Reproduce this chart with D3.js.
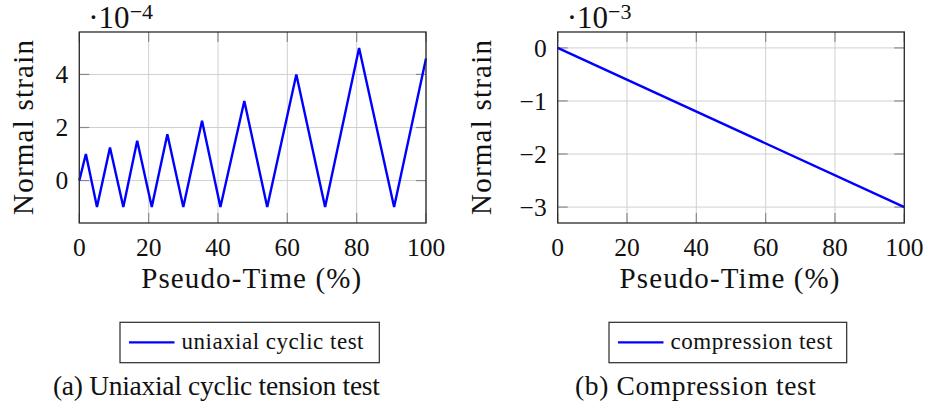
<!DOCTYPE html>
<html>
<head>
<meta charset="utf-8">
<script src="https://cdn.jsdelivr.net/npm/d3@7"></script>
<style>
  html, body { margin: 0; padding: 0; background: #fff; }
  svg { display: block; }
  svg text { font-family: "Liberation Serif", "DejaVu Serif", serif; }
</style>
</head>
<body>
<svg id="fig" width="928" height="410"></svg>
<script>
// ---- data (strain values in units of the axis multiplier) ----
const cyclicTime   = [0, 1.9, 5.1, 8.85, 12.7, 16.7, 20.9, 25.4, 30.0, 35.4, 40.7, 47.6, 54.2, 62.6, 70.9, 80.7, 90.8, 100];
const cyclicStrain = [0, 1, -1, 1.25, -1, 1.5, -1, 1.75, -1, 2.25, -1, 3, -1, 4, -1, 5, -1, 4.6];
const cyclicExponent = -4;

const compressionTime   = [0, 100];
const compressionStrain = [0, -3];
const compressionExponent = -3;

const xTicks = [0, 20, 40, 60, 80, 100];
const cyclicYTicks = [0, 2, 4];
const compressionYTicks = [0, -1, -2, -3];

const xLabel = "Pseudo-Time (%)";
const yLabel = "Normal strain";
const legendLabels = ["uniaxial cyclic test", "compression test"];
const captions = ["(a) Uniaxial cyclic tension test", "(b) Compression test"];

// ---- drawing ----
const svg = d3.select("#fig").attr("fill", "#111");
const plotTop = 32, plotBottom = 223;
const lineColor = "#0000ff";
const fmt = d3.format("");

const panels = [
  { x0: 79.3, x1: 426, time: cyclicTime, strain: cyclicStrain, exp: cyclicExponent,
    yTicks: cyclicYTicks, legend: legendLabels[0], caption: captions[0],
    yLabelX: 33, legendBox: [120, 379.3], legendText: 182, captionX: 216.4, captionW: 327 },
  { x0: 557.7, x1: 904.3, time: compressionTime, strain: compressionStrain, exp: compressionExponent,
    yTicks: compressionYTicks, legend: legendLabels[1], caption: captions[1],
    yLabelX: 491, legendBox: [609, 846.7], legendText: 162, captionX: 695.5, captionW: 241 }
];

panels.forEach(p => {
  const g = svg.append("g");
  const x = d3.scaleLinear().domain([0, 100]).range([p.x0, p.x1]);
  // y limits enlarged by 10% of the data range on both ends
  const [lo, hi] = d3.extent(p.strain);
  const pad = 0.1 * (hi - lo);
  const y = d3.scaleLinear().domain([lo - pad, hi + pad]).range([plotBottom, plotTop]);
  const w = p.x1 - p.x0, h = plotBottom - plotTop;

  // grid
  const grid = g.append("g").attr("stroke", "#d0d0d0").attr("stroke-width", 1);
  grid.selectAll("line.gx").data(xTicks).join("line")
    .attr("x1", d => x(d)).attr("x2", d => x(d)).attr("y1", plotTop).attr("y2", plotBottom);
  grid.selectAll("line.gy").data(p.yTicks).join("line")
    .attr("y1", d => y(d)).attr("y2", d => y(d)).attr("x1", p.x0).attr("x2", p.x1);

  // inward tick marks on all four sides
  const tl = 10;
  const ticks = g.append("g").attr("stroke", "#8a8a8a").attr("stroke-width", 1.2);
  xTicks.forEach(t => {
    ticks.append("line").attr("x1", x(t)).attr("x2", x(t)).attr("y1", plotBottom).attr("y2", plotBottom - tl);
    ticks.append("line").attr("x1", x(t)).attr("x2", x(t)).attr("y1", plotTop).attr("y2", plotTop + tl);
  });
  p.yTicks.forEach(t => {
    ticks.append("line").attr("y1", y(t)).attr("y2", y(t)).attr("x1", p.x0).attr("x2", p.x0 + tl);
    ticks.append("line").attr("y1", y(t)).attr("y2", y(t)).attr("x1", p.x1).attr("x2", p.x1 - tl);
  });

  // series
  const pts = p.time.map((t, i) => [t, p.strain[i]]);
  g.append("path").datum(pts)
    .attr("fill", "none").attr("stroke", lineColor).attr("stroke-width", 2.4)
    .attr("stroke-linejoin", "miter")
    .attr("d", d3.line().x(d => x(d[0])).y(d => y(d[1])));

  // frame
  g.append("rect").attr("x", p.x0).attr("y", plotTop).attr("width", w).attr("height", h)
    .attr("fill", "none").attr("stroke", "#2a2a2a").attr("stroke-width", 1.3);

  // tick labels
  g.selectAll("text.xt").data(xTicks).join("text")
    .attr("x", d => x(d)).attr("y", 256).attr("text-anchor", "middle")
    .attr("font-size", 25.5).text(d => fmt(d));
  g.selectAll("text.yt").data(p.yTicks).join("text")
    .attr("x", p.x0 - 11).attr("y", d => y(d)).attr("dy", "0.34em").attr("text-anchor", "end")
    .attr("font-size", 25.5).text(d => fmt(d));

  // axis multiplier
  const m = g.append("text").attr("x", p.x0 + 9).attr("y", 27.5).attr("font-size", 31);
  m.append("tspan").text("·10");
  m.append("tspan").attr("dy", -9).attr("font-size", 22).text("\u2212" + Math.abs(p.exp));

  // axis labels
  g.append("text").attr("x", (p.x0 + p.x1) / 2 - 1.5).attr("y", 288).attr("text-anchor", "middle")
    .attr("font-size", 29).attr("textLength", 220).text(xLabel);
  g.append("text").attr("transform", `translate(${p.yLabelX},${(plotTop + plotBottom) / 2}) rotate(-90)`)
    .attr("text-anchor", "middle").attr("font-size", 29).attr("textLength", 175).text(yLabel);

  // legend
  const [lx0, lx1] = p.legendBox;
  g.append("rect").attr("x", lx0).attr("y", 322.3).attr("width", lx1 - lx0).attr("height", 40.4)
    .attr("fill", "#fff").attr("stroke", "#2a2a2a").attr("stroke-width", 1.2);
  g.append("line").attr("x1", lx0 + 9).attr("x2", lx0 + 54.5).attr("y1", 342.3).attr("y2", 342.3)
    .attr("stroke", lineColor).attr("stroke-width", 2.3);
  g.append("text").attr("x", lx0 + 61.5).attr("y", 348.5).attr("font-size", 23)
    .attr("textLength", p.legendText).text(p.legend);

  // caption
  g.append("text").attr("x", p.captionX).attr("y", 395).attr("text-anchor", "middle")
    .attr("font-size", 27.5).attr("textLength", p.captionW).text(p.caption);
});
</script>
</body>
</html>
